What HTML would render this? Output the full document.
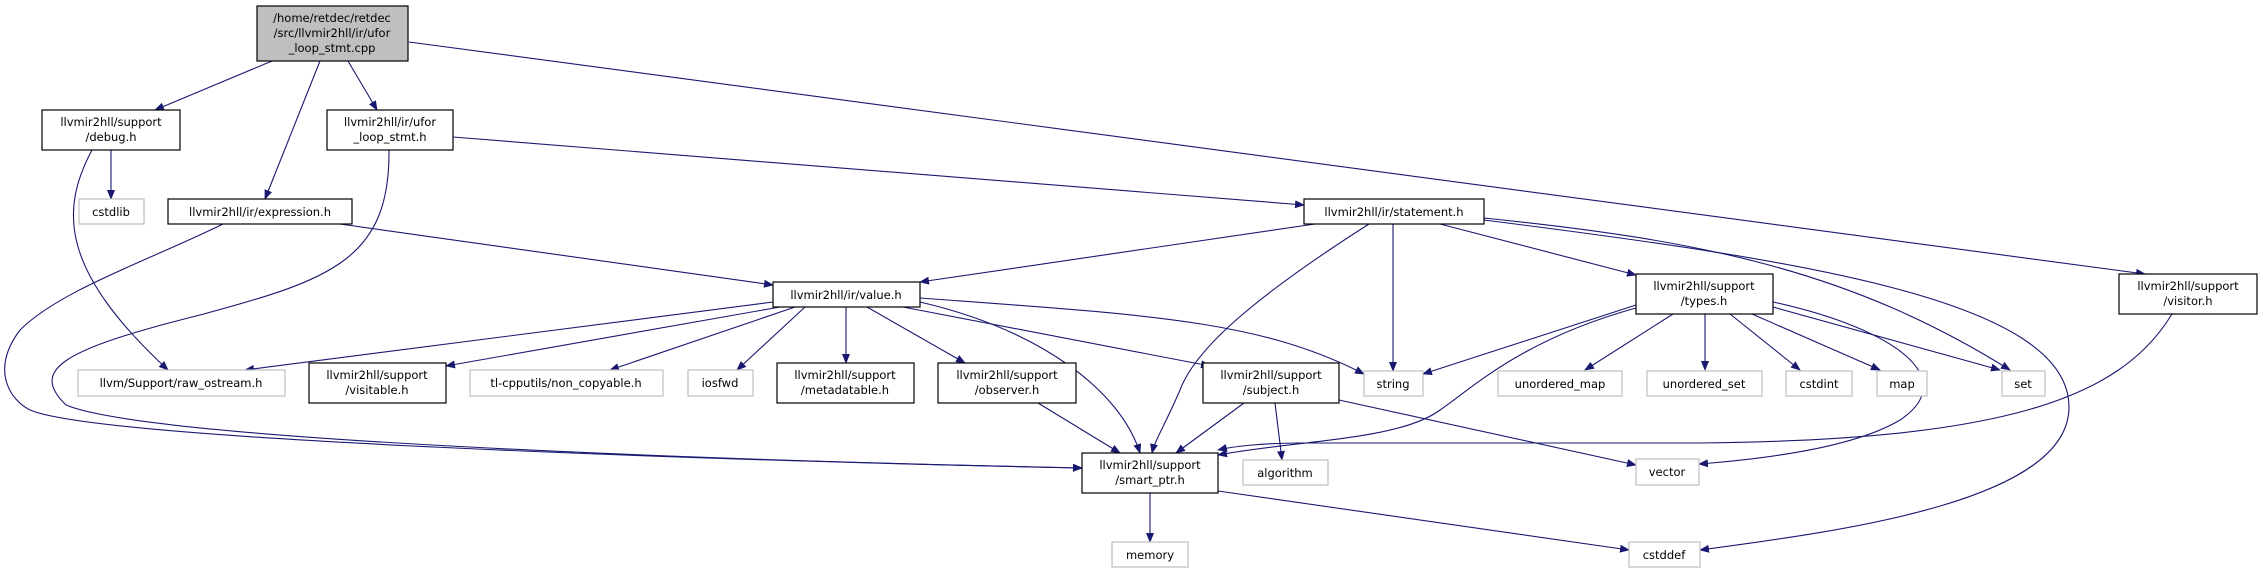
<!DOCTYPE html>
<html><head><meta charset="utf-8"><style>
html,body{margin:0;padding:0;background:#fff;}
svg{display:block}
text{font-family:"DejaVu Sans","Liberation Sans",sans-serif;font-size:11.5px;fill:#000;text-anchor:middle}
.n{fill:#fff;stroke:#000;stroke-width:1.2}
.g{fill:#fff;stroke:#bfbfbf;stroke-width:1.2}
.e{fill:none;stroke:#191970;stroke-width:1.1}
</style></head><body>
<svg width="2263" height="573" viewBox="0 0 2263 573" xmlns="http://www.w3.org/2000/svg">
<defs><marker id="a" markerWidth="10" markerHeight="8" refX="9" refY="4" orient="auto" markerUnits="userSpaceOnUse"><path d="M0,0 L10,4 L0,8 z" fill="#191970"/></marker></defs>
<g class="e" marker-end="url(#a)">
<path d="M272,61 L155,110"/>
<path d="M320,61 L265,199"/>
<path d="M348,61 L377,110"/>
<path d="M409,42 L2145,274"/>
<path d="M111,150 L111,199"/>
<path d="M92,150 C60,210 60,270 168,370"/>
<path d="M223,224 C150,260 60,290 20,330 C-10,370 10,400 30,410 C100,440 700,460 1082,468"/>
<path d="M389,150 C390,260 330,280 200,315 C60,350 30,370 66,405 C150,440 700,460 1082,468"/>
<path d="M453,137 L1304,205"/>
<path d="M340,224 L773,285"/>
<path d="M1315,224 L920,282"/>
<path d="M1369,224 C1250,300 1195,350 1180,390 C1165,425 1155,440 1152,453"/>
<path d="M1393,224 L1393,371"/>
<path d="M1440,224 L1636,275"/>
<path d="M1484,218 C1700,240 1850,270 2010,370"/>
<path d="M1484,220 C1800,260 2069,300 2069,407 C2069,500 1850,530 1700,550"/>
<path d="M773,302 L245,370"/>
<path d="M780,307 L446,366"/>
<path d="M795,307 L610,370"/>
<path d="M805,307 L737,370"/>
<path d="M846,307 L846,363"/>
<path d="M867,307 L965,363"/>
<path d="M903,307 L1210,366"/>
<path d="M920,302 C1040,330 1120,390 1140,453"/>
<path d="M920,298 C1150,315 1259,320 1364,374"/>
<path d="M1038,403 L1120,453"/>
<path d="M1244,403 L1176,453"/>
<path d="M1275,403 L1282,460"/>
<path d="M1339,400 L1636,465"/>
<path d="M1636,305 L1423,374"/>
<path d="M1636,308 C1520,340 1470,390 1440,410 C1400,440 1300,440 1218,455"/>
<path d="M1673,314 L1585,370"/>
<path d="M1705,314 L1705,370"/>
<path d="M1730,314 L1800,370"/>
<path d="M1752,314 L1880,370"/>
<path d="M1773,307 L2000,370"/>
<path d="M1773,302 C1900,330 1960,380 1900,420 C1850,450 1750,460 1699,464"/>
<path d="M2172,314 C2120,400 2000,440 1700,443 L1300,443 C1260,443 1230,447 1218,450"/>
<path d="M1150,493 L1150,542"/>
<path d="M1218,491 L1629,550"/>
</g>
<rect x="257" y="6" width="151" height="55" fill="#bfbfbf" stroke="#000" stroke-width="1.2"/>
<text x="332" y="22">/home/retdec/retdec</text><text x="332" y="37">/src/llvmir2hll/ir/ufor</text><text x="332" y="52">_loop_stmt.cpp</text>
<rect class="n" x="42" y="110" width="138" height="40"/><text x="111" y="126">llvmir2hll/support</text><text x="111" y="141">/debug.h</text>
<rect class="n" x="327" y="110" width="126" height="40"/><text x="390" y="126">llvmir2hll/ir/ufor</text><text x="390" y="141">_loop_stmt.h</text>
<rect class="g" x="79" y="199" width="65" height="25"/><text x="111" y="216">cstdlib</text>
<rect class="n" x="168" y="199" width="184" height="25"/><text x="260" y="216">llvmir2hll/ir/expression.h</text>
<rect class="n" x="1304" y="199" width="180" height="25"/><text x="1394" y="216">llvmir2hll/ir/statement.h</text>
<rect class="n" x="773" y="282" width="147" height="25"/><text x="846" y="299">llvmir2hll/ir/value.h</text>
<rect class="n" x="1636" y="274" width="137" height="40"/><text x="1704" y="290">llvmir2hll/support</text><text x="1704" y="305">/types.h</text>
<rect class="n" x="2119" y="274" width="138" height="40"/><text x="2188" y="290">llvmir2hll/support</text><text x="2188" y="305">/visitor.h</text>
<rect class="g" x="78" y="370" width="207" height="26"/><text x="181" y="387">llvm/Support/raw_ostream.h</text>
<rect class="n" x="309" y="363" width="137" height="40"/><text x="377" y="379">llvmir2hll/support</text><text x="377" y="394">/visitable.h</text>
<rect class="g" x="470" y="370" width="193" height="26"/><text x="566" y="387">tl-cpputils/non_copyable.h</text>
<rect class="g" x="688" y="370" width="65" height="26"/><text x="720" y="387">iosfwd</text>
<rect class="n" x="777" y="363" width="137" height="40"/><text x="845" y="379">llvmir2hll/support</text><text x="845" y="394">/metadatable.h</text>
<rect class="n" x="938" y="363" width="138" height="40"/><text x="1007" y="379">llvmir2hll/support</text><text x="1007" y="394">/observer.h</text>
<rect class="n" x="1203" y="363" width="136" height="40"/><text x="1271" y="379">llvmir2hll/support</text><text x="1271" y="394">/subject.h</text>
<rect class="g" x="1364" y="371" width="59" height="25"/><text x="1393" y="388">string</text>
<rect class="g" x="1498" y="371" width="124" height="25"/><text x="1560" y="388">unordered_map</text>
<rect class="g" x="1647" y="371" width="115" height="25"/><text x="1704" y="388">unordered_set</text>
<rect class="g" x="1786" y="371" width="66" height="25"/><text x="1819" y="388">cstdint</text>
<rect class="g" x="1877" y="371" width="50" height="25"/><text x="1902" y="388">map</text>
<rect class="g" x="2002" y="371" width="43" height="25"/><text x="2023" y="388">set</text>
<rect class="n" x="1082" y="453" width="136" height="40"/><text x="1150" y="469">llvmir2hll/support</text><text x="1150" y="484">/smart_ptr.h</text>
<rect class="g" x="1243" y="460" width="85" height="25"/><text x="1285" y="477">algorithm</text>
<rect class="g" x="1636" y="459" width="63" height="26"/><text x="1667" y="476">vector</text>
<rect class="g" x="1112" y="542" width="76" height="25"/><text x="1150" y="559">memory</text>
<rect class="g" x="1629" y="542" width="71" height="25"/><text x="1664" y="559">cstddef</text>
</svg>
</body></html>
